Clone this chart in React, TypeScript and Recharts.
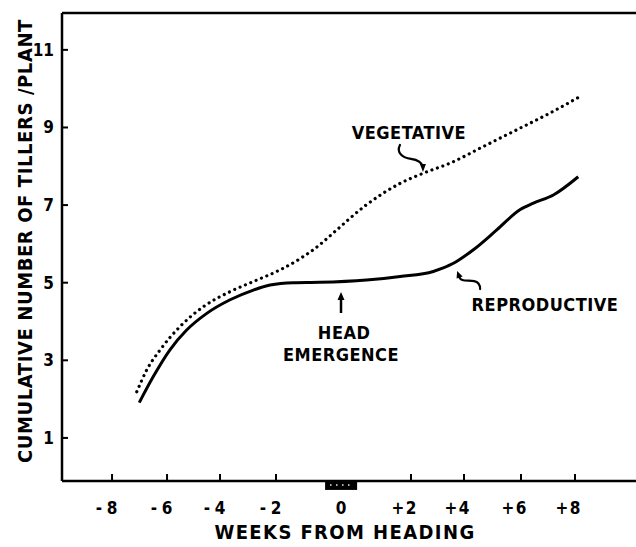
import React from 'react';
import { LineChart, Line, XAxis, YAxis, ReferenceLine, ReferenceArea, ReferenceDot } from 'recharts';

// ---- data ----
const weekTicks = [-8, -6, -4, -2, 0, 2, 4, 6, 8];
const tillerTicks = [1, 3, 5, 7, 9, 11];

const vegWeeks = [-7.1, -6.74, -6.25, -5.51, -4.63, -3.64, -2.81, -1.88, -1.26, -0.65, -0.24, 0.73, 1.69, 2.46, 3.47, 4.68, 5.85, 7.07, 8.19];
const vegTillers = [2.19, 2.75, 3.27, 3.87, 4.38, 4.77, 5.03, 5.33, 5.62, 5.98, 6.28, 7.01, 7.56, 7.82, 8.08, 8.51, 8.94, 9.37, 9.8];

const repWeeks = [-7.01, -6.5, -5.89, -5.26, -4.5, -3.64, -2.81, -2.21, -1.47, -0.65, 0.73, 1.69, 2.84, 3.6, 4.33, 5.15, 5.96, 6.46, 7.2, 8.12];
const repTillers = [1.91, 2.58, 3.27, 3.78, 4.21, 4.56, 4.81, 4.94, 5.0, 5.01, 5.07, 5.16, 5.29, 5.5, 5.85, 6.36, 6.88, 7.05, 7.26, 7.73];

const vegData = vegWeeks.map((w, i) => ({ week: w, tillers: vegTillers[i] }));
const repData = repWeeks.map((w, i) => ({ week: w, tillers: repTillers[i] }));

// The printed week axis is not uniform: the heading period around 0 is stretched.
const AXIS_KNOTS = [-8, -6, -4, -2, 0, 2, 4, 6, 8];
const AXIS_STRETCH = [112, 167, 220, 276, 341, 411, 464, 521, 575];

function warp(v: number): number {
  const k = AXIS_KNOTS, s = AXIS_STRETCH, n = k.length;
  let i = 0;
  if (v <= k[0]) i = 0;
  else if (v >= k[n - 1]) i = n - 2;
  else { while (i < n - 2 && v > k[i + 1]) i++; }
  return s[i] + ((v - k[i]) / (k[i + 1] - k[i])) * (s[i + 1] - s[i]);
}

function warpScale(): any {
  let dom: number[] = [0, 1];
  let rng: number[] = [0, 1];
  const sc: any = (v: number) => {
    const a = warp(dom[0]);
    const b = warp(dom[1]);
    return rng[0] + ((warp(Number(v)) - a) / (b - a)) * (rng[1] - rng[0]);
  };
  sc.domain = (d?: any) => {
    if (d === undefined) return dom.slice();
    dom = [Number(d[0]), Number(d[d.length - 1])];
    return sc;
  };
  sc.range = (r?: any) => {
    if (r === undefined) return rng.slice();
    rng = [Number(r[0]), Number(r[r.length - 1])];
    return sc;
  };
  sc.copy = () => warpScale().domain(dom).range(rng);
  sc.ticks = () => weekTicks.slice();
  sc.nice = () => sc;
  sc.clamp = () => sc;
  return sc;
}

const FONT = "'DejaVu Sans Condensed', 'DejaVu Sans', sans-serif";
const txt = { fontFamily: FONT, fontWeight: 700, fontStretch: 'condensed' as any, fill: '#000' };

const XTick = (props: any) => {
  const { x, y, payload } = props;
  const v = payload.value;
  const sign = v < 0 ? '-' : v > 0 ? '+' : '';
  return (
    <g>
      {v !== 0 && <line x1={x} x2={x} y1={y} y2={y - 7} stroke="#000" strokeWidth={2} />}
      <text x={x} y={y + 33} textAnchor="middle" fontSize={17} style={txt}>{Math.abs(v)}</text>
      {sign && <text x={x - 13} y={y + 33} textAnchor="middle" fontSize={17} style={txt}>{sign}</text>}
    </g>
  );
};

const YTick = (props: any) => {
  const { x, y, payload } = props;
  return (
    <g>
      <line x1={x} x2={x + 6} y1={y} y2={y} stroke="#000" strokeWidth={2} />
      <text x={x - 8} y={y} textAnchor="end" dominantBaseline="central" fontSize={17} style={txt}>{payload.value}</text>
    </g>
  );
};

const textShape = (label: string, size: number) => (p: any) => (
  <text x={p.cx} y={p.cy} textAnchor="middle" dominantBaseline="central" fontSize={size} style={txt} letterSpacing={0.5}>{label}</text>
);

const upArrow = (p: any) => (
  <g transform={`translate(${p.cx},${p.cy})`}>
    <line x1={0} y1={6} x2={0} y2={21} stroke="#000" strokeWidth={2.5} />
    <path d="M0,0 L-3.5,8 L3.5,8 Z" fill="#000" />
  </g>
);

const vegArrow = (p: any) => (
  <g transform={`translate(${p.cx},${p.cy})`}>
    <path d="M-23,-26 C-27,-18 -20,-13 -12,-12 C-4,-11 -1,-8 0,-4" fill="none" stroke="#000" strokeWidth={2.2} strokeLinecap="round" />
    <path d="M0,1 L-3,-7 L3,-7 Z" fill="#000" />
  </g>
);

const repArrow = (p: any) => (
  <g transform={`translate(${p.cx},${p.cy})`}>
    <path d="M2,5 C3,11 10,9 17,10 C22,11 23,14 23,18" fill="none" stroke="#000" strokeWidth={2.2} strokeLinecap="round" />
    <path d="M0,0 L-0.5,7.5 L5.5,5.5 Z" fill="#000" />
  </g>
);

const headingBox = (p: any) => {
  const { x, y, width, height } = p;
  return (
    <g>
      <rect x={x} y={y} width={width} height={height} fill="#000" />
      <line x1={x + 5} x2={x + width - 4} y1={y + 4} y2={y + 4} stroke="#fff" strokeWidth={1.4} strokeDasharray="1.4 4.6" />
    </g>
  );
};

const yTitle = (p: any) => {
  const vb = p.viewBox;
  const cx = vb.x + vb.width - 37;
  const cy = vb.y + vb.height / 2 - 6;
  return (
    <text x={cx} y={cy} transform={`rotate(-90 ${cx} ${cy})`} textAnchor="middle" dominantBaseline="central" fontSize={20} style={txt} letterSpacing={0.6}>
      CUMULATIVE NUMBER OF TILLERS /PLANT
    </text>
  );
};

const xTitle = (p: any) => {
  const vb = p.viewBox;
  return (
    <text x={vb.x + vb.width / 2 - 4} y={vb.y + 58} textAnchor="middle" fontSize={20} style={txt} letterSpacing={1.4}>
      WEEKS FROM HEADING
    </text>
  );
};

export default function App() {
  return (
    <div style={{ width: 636, height: 547, background: '#fff' }}>
      <style>{`body{margin:0}`}</style>
      <LineChart width={636} height={547} margin={{ top: 13, right: 0, bottom: 56, left: 52 }}>
        <XAxis
          type="number"
          dataKey="week"
          scale={warpScale()}
          domain={[-9.82, 10.26]}
          allowDataOverflow
          ticks={weekTicks}
          interval={0}
          height={10}
          tickSize={0}
          tickMargin={0}
          tickLine={false}
          tick={XTick}
          axisLine={{ stroke: '#000', strokeWidth: 2.5 }}
          label={{ content: xTitle }}
        />
        <YAxis
          type="number"
          domain={[-0.11, 11.95]}
          allowDataOverflow
          ticks={tillerTicks}
          interval={0}
          width={10}
          tickSize={0}
          tickMargin={0}
          tickLine={false}
          tick={YTick}
          axisLine={{ stroke: '#000', strokeWidth: 2.5 }}
          label={{ content: yTitle }}
        />
        <ReferenceLine y={11.95} stroke="#000" strokeWidth={2.5} ifOverflow="visible" />
        <ReferenceArea x1={-0.49} x2={0.46} y1={-0.34} y2={-0.11} ifOverflow="visible" shape={headingBox} />
        <Line data={vegData} dataKey="tillers" type="monotone" stroke="#000" strokeWidth={3.2} strokeDasharray="0.01 5.8" strokeLinecap="round" dot={false} activeDot={false} isAnimationActive={false} />
        <Line data={repData} dataKey="tillers" type="monotone" stroke="#000" strokeWidth={3} dot={false} activeDot={false} isAnimationActive={false} />
        <ReferenceDot x={1.94} y={8.86} r={0} shape={textShape('VEGETATIVE', 18)} />
        <ReferenceDot x={2.45} y={7.88} r={0} shape={vegArrow} />
        <ReferenceDot x={0} y={4.76} r={0} shape={upArrow} />
        <ReferenceDot x={0.09} y={3.71} r={0} shape={textShape('HEAD', 18)} />
        <ReferenceDot x={0} y={3.14} r={0} shape={textShape('EMERGENCE', 18)} />
        <ReferenceDot x={3.74} y={5.3} r={0} shape={repArrow} />
        <ReferenceDot x={6.89} y={4.45} r={0} shape={textShape('REPRODUCTIVE', 18)} />
      </LineChart>
    </div>
  );
}
